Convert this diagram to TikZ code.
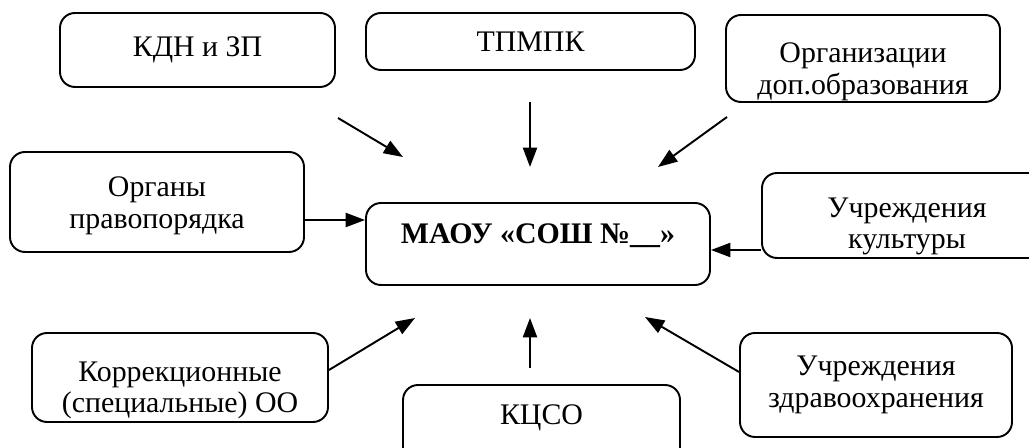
\documentclass[tikz,border=0pt]{standalone}
\usepackage{fontspec}
\setmainfont{Liberation Serif}
\usetikzlibrary{arrows.meta}

\tikzset{
	box/.style={draw, rounded corners=0.3cm, line width=1.1pt},
	every label/.style={align=center, font=\fontsize{17}{18}\selectfont},
	link/.style={line width=1.1pt, -{Triangle[length=11pt,width=8pt]}}
}

\begin{document}
\begin{tikzpicture}[]
	%\draw[help lines, thick] (0,-9) grid (21,0);
	\useasboundingbox (0,0) rectangle (20.58,-8.96);
	% boxes
	\node[box, minimum width=5.5cm, minimum height=1.48cm, label={center:КДН и ЗП}] (kdn) at (3.95,-1.0) {};
	\node[box, minimum width=6.58cm, minimum height=1.14cm, label={center:ТПМПК}] (tpmpk) at (10.61,-0.83) {};
	\node[box, minimum width=5.48cm, minimum height=1.74cm, label={[yshift=-0.26cm]center:Организации\\доп.образования}] (dop) at (17.26,-1.17) {};
	\node[box, minimum width=5.88cm, minimum height=2.0cm, label={[yshift=-0.08cm]center:Органы\\правопорядка}] (organy) at (3.14,-4.04) {};
	\node[box, minimum width=6.88cm, minimum height=1.64cm, label={[yshift=0.16cm, font=\fontsize{17}{18}\selectfont\bfseries]center:МАОУ «СОШ №\_\_»}] (maou) at (10.76,-4.88) {};
	\node[box, minimum width=5.8cm, minimum height=1.7cm, label={[yshift=-0.22cm]center:Учреждения\\культуры}] (kult) at (18.14,-4.31) {};
	\node[box, minimum width=5.92cm, minimum height=1.78cm, label={[yshift=-0.26cm]center:Коррекционные\\(специальные) ОО}] (korr) at (3.6,-7.55) {};
	\node[box, minimum width=5.54cm, minimum height=1.6cm, label={[yshift=0.14cm]center:КЦСО}] (kcso) at (10.83,-8.5) {};
	\node[box, minimum width=5.44cm, minimum height=2.08cm, label={center:Учреждения\\здравоохранения}] (zdrav) at (17.52,-7.7) {};
	% free arrow ends
	\coordinate (kdnA) at (6.76,-2.36);
	\coordinate (kdnB) at (8.06,-3.14);
	\coordinate (tpmpkA) at (10.6,-2.04);
	\coordinate (tpmpkB) at (10.6,-3.34);
	\coordinate (dopA) at (14.54,-2.34);
	\coordinate (dopB) at (13.16,-3.34);
	\coordinate (korrB) at (8.3,-6.36);
	\coordinate (kcsoA) at (10.6,-7.36);
	\coordinate (kcsoB) at (10.6,-6.36);
	\coordinate (zdravB) at (12.9,-6.34);
	% arrows
	\draw[link] (kdnA) -- (kdnB);
	\draw[link] (tpmpkA) -- (tpmpkB);
	\draw[link] (dopA) -- (dopB);
	\draw[link] ([yshift=-0.36cm]organy.east) -- ([yshift=0.48cm]maou.west);
	\draw[link] ([yshift=-0.69cm]kult.west) -- ([yshift=-0.12cm]maou.east);
	\draw[link] ([yshift=0.15cm]korr.east) -- (korrB);
	\draw[link] (kcsoA) -- (kcsoB);
	\draw[link] ([yshift=0.26cm]zdrav.west) -- (zdravB);
\end{tikzpicture}
\end{document}
